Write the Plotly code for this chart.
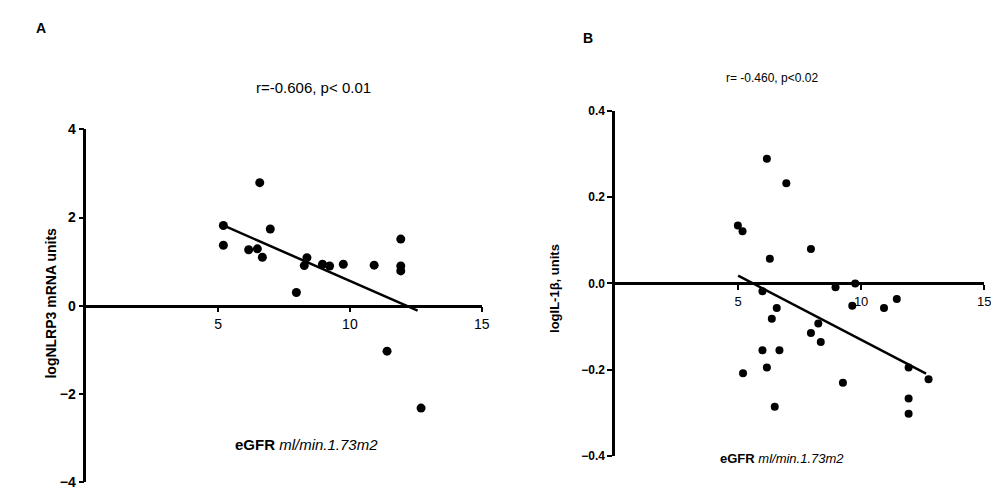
import plotly.graph_objects as go

# Panel A data
a_x = [5.2, 5.2, 6.58, 6.98, 6.16, 6.49, 6.68, 8.37, 8.27, 7.97, 8.96, 9.23, 9.75, 10.92, 11.93, 11.93, 11.93, 11.41, 12.70]
a_y = [1.82, 1.37, 2.79, 1.74, 1.27, 1.29, 1.10, 1.09, 0.91, 0.30, 0.94, 0.90, 0.94, 0.92, 1.51, 0.90, 0.79, -1.03, -2.32]
a_fit_x = [5.2, 12.57]
a_fit_y = [1.82, -0.11]

# Panel B data
b_x = [4.99, 5.18, 6.17, 6.96, 6.29, 7.96, 5.99, 8.96, 9.76, 9.64, 6.57, 6.37, 10.93, 11.45, 8.26, 7.96, 8.36,
       5.99, 6.68, 6.17, 5.20, 9.26, 11.93, 12.74, 11.93, 11.93, 6.49]
b_y = [0.134, 0.121, 0.289, 0.232, 0.057, 0.080, -0.018, -0.009, 0.0, -0.052, -0.057, -0.082, -0.057, -0.036, -0.093,
       -0.115, -0.136, -0.155, -0.155, -0.195, -0.208, -0.230, -0.195, -0.222, -0.267, -0.302, -0.286]
b_fit_x = [5.0, 12.64]
b_fit_y = [0.018, -0.209]

FONT = "Liberation Sans, Arial, sans-serif"
fig = go.Figure()
fig.add_trace(go.Scatter(x=a_x, y=a_y, mode="markers", marker=dict(color="black", size=9), xaxis="x", yaxis="y"))
fig.add_trace(go.Scatter(x=a_fit_x, y=a_fit_y, mode="lines", line=dict(color="black", width=2.5), xaxis="x", yaxis="y"))
fig.add_trace(go.Scatter(x=b_x, y=b_y, mode="markers", marker=dict(color="black", size=8), xaxis="x2", yaxis="y2"))
fig.add_trace(go.Scatter(x=b_fit_x, y=b_fit_y, mode="lines", line=dict(color="black", width=2.5), xaxis="x2", yaxis="y2"))

ax_common = dict(showgrid=False, zeroline=False, showline=True, linecolor="black", linewidth=2.5,
                 ticks="outside", ticklen=5, tickwidth=2, tickcolor="black")
ya_dom = [0.0123, 0.76]
yb_dom = [0.0678, 0.799]
fig.update_layout(
    width=999, height=487, showlegend=False, plot_bgcolor="white", paper_bgcolor="white",
    margin=dict(l=0, r=0, t=0, b=0), font=dict(family=FONT, color="black"),
    xaxis=dict(ax_common, domain=[0.079, 0.478], range=[0, 15], tickvals=[5, 10, 15],
               anchor="free", position=(ya_dom[0] + ya_dom[1]) / 2, tickfont=dict(size=14)),
    yaxis=dict(ax_common, domain=ya_dom, range=[-4, 4], tickvals=[-4, -2, 0, 2, 4],
               anchor="x", tickfont=dict(size=14, weight="bold")),
    xaxis2=dict(ax_common, domain=[0.6126, 0.985], range=[0, 15], tickvals=[5, 10, 15],
                anchor="free", position=(yb_dom[0] + yb_dom[1]) / 2, tickfont=dict(size=13)),
    yaxis2=dict(ax_common, domain=yb_dom, range=[-0.4, 0.4], tickvals=[-0.4, -0.2, 0.0, 0.2, 0.4],
                tickformat=".1f", anchor="x2", tickfont=dict(size=12, weight="bold")),
)
ann = [
    dict(text="<b>A</b>", x=33, y=12, size=14),
    dict(text="<b>B</b>", x=585, y=23, size=14),
    dict(text="r=-0.606, p< 0.01", x=308, y=74, size=15),
    dict(text="r= -0.460, p<0.02", x=770, y=64, size=12),
    dict(text="<b>eGFR</b> <i>ml/min.1.73m2</i>", x=301, y=442, size=15),
    dict(text="<b>eGFR</b> <i>ml/min.1.73m2</i>", x=780, y=457, size=13),
]
for a in ann:
    fig.add_annotation(text=a["text"], x=a["x"] / 999, y=1 - a["y"] / 487, xref="paper", yref="paper",
                       xanchor="center", yanchor="middle", showarrow=False, font=dict(size=a["size"]))
fig.add_annotation(text="<b>logNLRP3 mRNA units</b>", x=43 / 999, y=1 - 296 / 487, xref="paper", yref="paper",
                   xanchor="center", yanchor="middle", showarrow=False, textangle=-90, font=dict(size=14))
fig.add_annotation(text="<b>logIL-1β, units</b>", x=551 / 999, y=1 - 281 / 487, xref="paper", yref="paper",
                   xanchor="center", yanchor="middle", showarrow=False, textangle=-90, font=dict(size=13))
fig.write_html("out.html")
